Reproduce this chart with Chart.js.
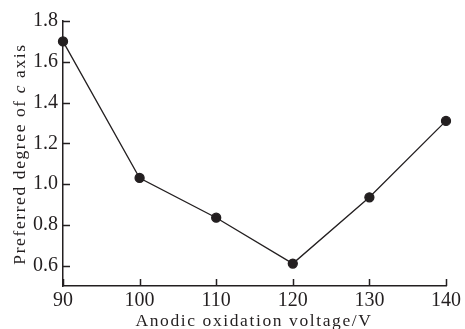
<!DOCTYPE html>
<html>
<head>
<meta charset="utf-8">
<script src="https://cdn.jsdelivr.net/npm/chart.js@4.4.1/dist/chart.umd.min.js"></script>
<style>
  html, body { margin: 0; padding: 0; background: #fff; }
  #wrap { width: 465px; height: 329px; }
</style>
</head>
<body>
<div id="wrap"><canvas id="chart" width="465" height="329"></canvas></div>
<script>
// --- DATA ---
const voltages = [90, 100, 110, 120, 130, 140];
const preferredDegree = [1.70, 1.03, 0.835, 0.61, 0.935, 1.31];
const xTicks = [90, 100, 110, 120, 130, 140];
const yTicks = [0.6, 0.8, 1.0, 1.2, 1.4, 1.6, 1.8];

const ink = '#231f20';
const serif = '"Liberation Serif", "Times New Roman", serif';

// inward ticks + axis titles (with italic c)
const decorPlugin = {
  id: 'decor',
  afterDraw(chart) {
    const { ctx, chartArea, scales } = chart;
    ctx.save();
    ctx.strokeStyle = ink;
    ctx.lineWidth = 1.5;
    ctx.beginPath();
    yTicks.forEach(v => {
      const y = Math.round(scales.y.getPixelForValue(v)) + 0.5;
      ctx.moveTo(chartArea.left, y);
      ctx.lineTo(chartArea.left + 7, y);
    });
    xTicks.forEach(v => {
      const x = Math.round(scales.x.getPixelForValue(v)) + 0.5;
      ctx.moveTo(x, chartArea.bottom);
      ctx.lineTo(x, chartArea.bottom - 7);
    });
    ctx.stroke();

    ctx.fillStyle = ink;
    ctx.textBaseline = 'alphabetic';
    ctx.letterSpacing = '1.6px';

    // x title
    ctx.font = '17.5px ' + serif;
    ctx.textAlign = 'center';
    ctx.fillText('Anodic oxidation voltage/V', 254, 326);

    // y title, rotated, with italic c
    const parts = [
      { t: 'Preferred degree of ', f: '17.5px ' + serif },
      { t: 'c', f: 'italic 17.5px ' + serif },
      { t: ' axis', f: '17.5px ' + serif }
    ];
    let total = 0;
    parts.forEach(p => { ctx.font = p.f; p.w = ctx.measureText(p.t).width; total += p.w; });
    ctx.translate(25, 154);
    ctx.rotate(-Math.PI / 2);
    ctx.textAlign = 'left';
    let x = -total / 2;
    parts.forEach(p => { ctx.font = p.f; ctx.fillText(p.t, x, 0); x += p.w; });
    ctx.restore();
  }
};

new Chart(document.getElementById('chart'), {
  type: 'line',
  data: {
    datasets: [{
      data: voltages.map((v, i) => ({ x: v, y: preferredDegree[i] })),
      borderColor: ink,
      borderWidth: 1.3,
      backgroundColor: ink,
      pointRadius: 4.5,
      pointBackgroundColor: ink,
      pointBorderColor: ink,
      tension: 0,
      clip: false
    }]
  },
  options: {
    responsive: false,
    animation: false,
    layout: { padding: { left: 0, right: 19, top: 21, bottom: 0 } },
    plugins: { legend: { display: false }, tooltip: { enabled: false } },
    scales: {
      x: {
        type: 'linear',
        min: 90, max: 140,
        afterBuildTicks: s => { s.ticks = xTicks.map(v => ({ value: v })); },
        afterFit: s => { s.height = 43; },
        border: { color: ink, width: 1.5 },
        grid: { display: false, drawTicks: false },
        ticks: { color: ink, padding: 3, font: { family: serif, size: 20 }, maxRotation: 0 }
      },
      y: {
        min: 0.5, max: 1.8,
        afterBuildTicks: s => { s.ticks = yTicks.map(v => ({ value: v })); },
        afterFit: s => { s.width = 63; },
        border: { color: ink, width: 1.5 },
        grid: { display: false, drawTicks: false },
        ticks: {
          color: ink, padding: 5, font: { family: serif, size: 20 },
          callback: v => v.toFixed(1)
        }
      }
    }
  },
  plugins: [decorPlugin]
});
</script>
</body>
</html>
